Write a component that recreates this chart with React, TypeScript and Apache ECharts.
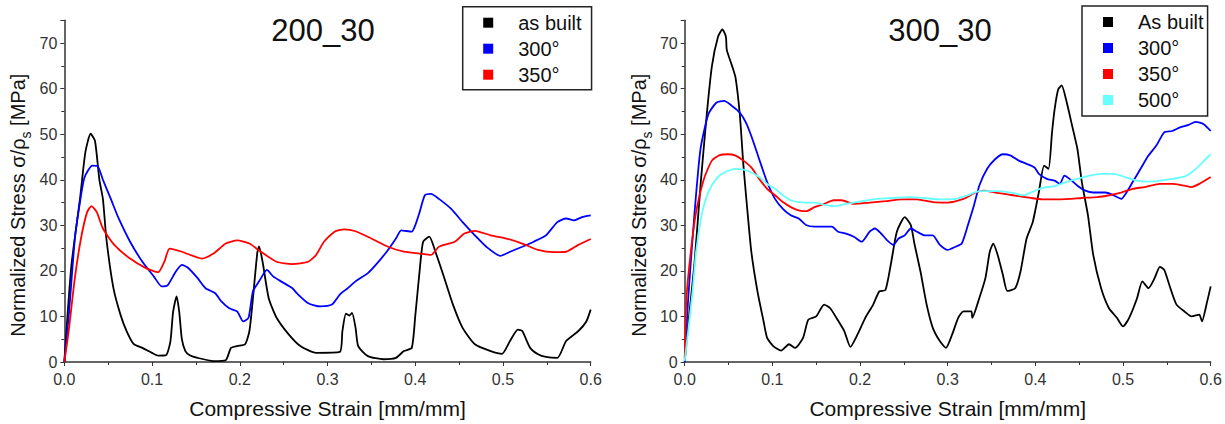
import React, { useEffect, useRef } from "react";
import * as echarts from "echarts";

// ---------- Data (strain [mm/mm], normalized stress [MPa]) ----------
const X_TICKS = [0, 0.1, 0.2, 0.3, 0.4, 0.5, 0.6];
const Y_TICKS = [0, 10, 20, 30, 40, 50, 60, 70];

const TITLE_LEFT = "200_30";
const TITLE_RIGHT = "300_30";

const LEGEND_LEFT = ["as built", "300°", "350°"];
const LEGEND_RIGHT = ["As built", "300°", "350°", "500°"];

// Left panel (200_30)
const L_AS_BUILT: [number, number][] = [
  [0, 0], [0.008, 21], [0.018, 36], [0.024, 46], [0.03, 50.1], [0.035, 48.5], [0.04, 40],
  [0.044, 35.8], [0.048, 27], [0.056, 16.2], [0.064, 10.4], [0.071, 6.8], [0.079, 4],
  [0.09, 3], [0.1, 2], [0.107, 1.4], [0.116, 1.5], [0.121, 4.6], [0.124, 11], [0.128, 14.4],
  [0.131, 11], [0.134, 5], [0.138, 2.4], [0.143, 1.5], [0.152, 0.9], [0.17, 0.2],
  [0.184, 0.4], [0.19, 3.1], [0.197, 3.5], [0.206, 3.9], [0.211, 6.8], [0.215, 14],
  [0.22, 24], [0.222, 25.4], [0.226, 22], [0.233, 14], [0.242, 9.7], [0.256, 6],
  [0.269, 3.5], [0.287, 2], [0.314, 2.2], [0.317, 6.8], [0.321, 10.6], [0.325, 10.2],
  [0.328, 10.8], [0.332, 7.5], [0.335, 3.5], [0.346, 1.3], [0.364, 0.6], [0.378, 0.9],
  [0.387, 2.4], [0.396, 3.1], [0.4, 10], [0.405, 20], [0.409, 26.4], [0.416, 27.5],
  [0.423, 24.2], [0.432, 19.1], [0.443, 12.6], [0.454, 7.5], [0.468, 3.9], [0.486, 2.4],
  [0.499, 1.8], [0.508, 4.6], [0.517, 7.1], [0.522, 6.8], [0.531, 3.1], [0.54, 1.7],
  [0.549, 1.1], [0.562, 0.9], [0.572, 4.6], [0.586, 6.8], [0.595, 8.9], [0.6, 11.5],
];

const L_300: [number, number][] = [
  [0, 0], [0.005, 10], [0.012, 27], [0.017, 34], [0.023, 40.5], [0.032, 43.1], [0.038, 43],
  [0.044, 40], [0.053, 35.8], [0.062, 31.5], [0.075, 26.4], [0.089, 22], [0.102, 18.8],
  [0.111, 16.6], [0.118, 16.9], [0.127, 19.8], [0.134, 21.3], [0.141, 20.7], [0.152, 18.4],
  [0.161, 16.2], [0.172, 15.1], [0.179, 13.3], [0.188, 11.8], [0.197, 11.1], [0.204, 8.9],
  [0.21, 9.7], [0.215, 15.5], [0.222, 17.7], [0.231, 20.2], [0.238, 18.8], [0.247, 17.7],
  [0.26, 16.2], [0.265, 15.1], [0.278, 12.9], [0.292, 12.2], [0.305, 12.6], [0.314, 14.8],
  [0.323, 16.2], [0.332, 17.7], [0.346, 19.5], [0.355, 21.3], [0.369, 24.6], [0.378, 27.1],
  [0.384, 28.9], [0.396, 28.6], [0.4, 30], [0.405, 32.9], [0.411, 36.6], [0.418, 36.9],
  [0.427, 35.8], [0.441, 33.6], [0.454, 30.7], [0.468, 27.8], [0.481, 25.3], [0.497, 23.3],
  [0.508, 24.2], [0.522, 25.3], [0.535, 26.4], [0.549, 27.8], [0.562, 30.7], [0.572, 31.5],
  [0.581, 31.1], [0.59, 31.8], [0.6, 32.2],
];

const L_350: [number, number][] = [
  [0, 0], [0.005, 6.8], [0.012, 18.4], [0.019, 27.1], [0.026, 32.9], [0.031, 34.2],
  [0.037, 32.9], [0.044, 29.3], [0.057, 25.7], [0.075, 22.7], [0.093, 20.6], [0.107, 19.7],
  [0.114, 22], [0.12, 24.9], [0.134, 24.2], [0.157, 22.7], [0.17, 23.8], [0.184, 26],
  [0.197, 26.7], [0.211, 26], [0.224, 24.2], [0.242, 22], [0.26, 21.5], [0.278, 22],
  [0.287, 23.5], [0.296, 26.4], [0.308, 28.6], [0.319, 29.1], [0.332, 28.7], [0.35, 27.1],
  [0.369, 25.3], [0.387, 24.2], [0.405, 23.8], [0.418, 23.5], [0.427, 25.3], [0.445, 26.4],
  [0.456, 28.2], [0.468, 28.8], [0.486, 27.8], [0.504, 27.1], [0.522, 26], [0.54, 24.6],
  [0.558, 24.1], [0.572, 24.2], [0.586, 25.7], [0.6, 27],
];

// Right panel (300_30)
const R_AS_BUILT: [number, number][] = [
  [0, 0], [0.004, 8.2], [0.011, 21.3], [0.018, 38.7], [0.025, 54], [0.031, 64.9],
  [0.038, 71.4], [0.043, 73], [0.047, 71.4], [0.048, 68.5], [0.054, 65], [0.058, 62.4],
  [0.063, 54], [0.067, 43.1], [0.072, 32.2], [0.076, 24.2], [0.083, 15.5], [0.09, 8.9],
  [0.094, 5.3], [0.101, 3.5], [0.11, 2.5], [0.119, 3.9], [0.126, 3.1], [0.135, 5.3],
  [0.141, 9.3], [0.15, 10], [0.159, 12.6], [0.166, 11.8], [0.173, 9.7], [0.182, 6.8],
  [0.189, 3.3], [0.197, 6], [0.206, 9.7], [0.215, 12.6], [0.222, 15.5], [0.229, 15.8],
  [0.235, 21.3], [0.242, 28.6], [0.251, 31.8], [0.258, 30], [0.262, 26], [0.269, 19.8],
  [0.276, 12.6], [0.283, 7.5], [0.291, 4.6], [0.298, 3.1], [0.305, 6], [0.312, 9.7],
  [0.318, 11.1], [0.327, 11.1], [0.328, 9.7], [0.336, 14], [0.343, 18.4], [0.348, 24.2],
  [0.352, 26], [0.357, 23.5], [0.363, 19.1], [0.368, 15.6], [0.377, 16.2], [0.383, 19.8],
  [0.39, 27.1], [0.397, 30.7], [0.404, 37.3], [0.41, 43.1], [0.415, 42.4], [0.419, 50.4],
  [0.422, 55.5], [0.426, 59.8], [0.43, 60.7], [0.435, 57.6], [0.442, 51.8], [0.448, 46.7],
  [0.453, 39.5], [0.46, 32.2], [0.466, 23.5], [0.475, 16.2], [0.484, 11.8], [0.493, 9.7],
  [0.5, 7.8], [0.507, 9.7], [0.516, 14], [0.522, 17.7], [0.529, 16.2], [0.536, 18.4],
  [0.542, 20.9], [0.547, 20.2], [0.554, 16.2], [0.561, 12.6], [0.57, 11.1], [0.578, 10],
  [0.587, 10.4], [0.59, 8.9], [0.596, 13.3], [0.6, 16.6],
];

const R_300: [number, number][] = [
  [0, 0], [0.004, 14], [0.011, 32.2], [0.018, 46.7], [0.027, 54.4], [0.036, 56.9],
  [0.045, 57.3], [0.054, 56.2], [0.063, 54.7], [0.07, 52.5], [0.076, 49.6], [0.085, 44.5],
  [0.094, 39.5], [0.103, 35.8], [0.112, 33.6], [0.121, 32.2], [0.13, 31.5], [0.139, 30],
  [0.148, 29.7], [0.159, 29.7], [0.168, 29.7], [0.175, 28.6], [0.184, 28.2], [0.193, 27.5],
  [0.202, 26.4], [0.211, 28.6], [0.217, 29.3], [0.224, 28.2], [0.231, 26.7], [0.238, 25.7],
  [0.244, 27.1], [0.251, 27.8], [0.258, 29.3], [0.265, 28.6], [0.274, 27.8], [0.283, 27.8],
  [0.291, 25.7], [0.3, 24.6], [0.309, 25.3], [0.316, 26], [0.323, 30], [0.33, 34.4],
  [0.336, 38.7], [0.345, 42.4], [0.354, 44.5], [0.363, 45.6], [0.372, 45.3], [0.381, 44.2],
  [0.39, 43.5], [0.399, 42.7], [0.404, 41.3], [0.413, 40.2], [0.422, 39.8], [0.428, 39.1],
  [0.433, 40.9], [0.439, 40.2], [0.448, 38.7], [0.457, 37.6], [0.466, 37.2], [0.48, 37.2],
  [0.489, 36.6], [0.498, 35.8], [0.504, 37.2], [0.511, 39.5], [0.52, 42.4], [0.529, 45.3],
  [0.538, 47.5], [0.547, 50.4], [0.556, 50.7], [0.565, 51.5], [0.574, 52], [0.583, 52.7],
  [0.592, 52.2], [0.6, 50.7],
];

const R_350: [number, number][] = [
  [0, 0.6], [0.002, 14], [0.007, 24.2], [0.013, 32.9], [0.022, 40.2], [0.031, 44.2],
  [0.04, 45.4], [0.049, 45.6], [0.058, 45.3], [0.067, 44.2], [0.076, 42.7], [0.085, 40.2],
  [0.094, 38], [0.103, 36.6], [0.112, 35.1], [0.121, 34], [0.13, 33.3], [0.139, 33.1],
  [0.148, 34], [0.159, 34.7], [0.17, 35.5], [0.179, 35.5], [0.193, 34.7], [0.211, 35],
  [0.229, 35.3], [0.247, 35.7], [0.265, 35.7], [0.283, 35.1], [0.3, 35], [0.318, 35.8],
  [0.332, 37.2], [0.341, 37.6], [0.354, 37.2], [0.368, 36.8], [0.381, 36.4], [0.395, 36],
  [0.408, 35.7], [0.426, 35.7], [0.439, 35.8], [0.453, 36], [0.471, 36.2], [0.484, 36.6],
  [0.498, 37.2], [0.511, 38], [0.525, 38.4], [0.542, 39.1], [0.556, 39.1], [0.57, 38.7],
  [0.578, 38.4], [0.587, 39.1], [0.6, 40.6],
];

const R_500: [number, number][] = [
  [0, 0.2], [0.004, 6.8], [0.009, 15.5], [0.013, 24.2], [0.02, 32.9], [0.027, 37.3],
  [0.036, 40.2], [0.045, 41.6], [0.058, 42.4], [0.067, 42.2], [0.076, 41.6], [0.085, 40.6],
  [0.094, 39.1], [0.103, 38], [0.112, 36.6], [0.121, 35.5], [0.13, 35.1], [0.139, 35],
  [0.148, 35], [0.159, 34.5], [0.17, 34.2], [0.184, 34.7], [0.202, 35.3], [0.22, 35.8],
  [0.238, 36], [0.256, 36.2], [0.274, 36], [0.291, 35.7], [0.309, 35.8], [0.323, 36.6],
  [0.336, 37.5], [0.354, 37.5], [0.372, 37.2], [0.386, 36.6], [0.395, 37.2], [0.408, 38.2],
  [0.422, 38.6], [0.435, 39.5], [0.448, 40.2], [0.462, 40.9], [0.475, 41.3], [0.489, 41.3],
  [0.502, 40.6], [0.516, 39.8], [0.529, 39.6], [0.542, 39.8], [0.556, 40.2], [0.57, 40.7],
  [0.578, 41.6], [0.587, 43.1], [0.594, 44.5], [0.6, 45.6],
];

const COLORS = {
  black: "#000000",
  blue: "#0000ff",
  red: "#ff0000",
  cyan: "#66ffff",
};

const FONT = "'Liberation Sans', Arial, sans-serif";

export default function App() {
  const ref = useRef<HTMLDivElement>(null);

  useEffect(() => {
    if (!ref.current) return;
    const chart = echarts.init(ref.current, undefined, { renderer: "svg" });

    const grids = [
      { left: 64.3, top: 20.3, width: 526.4, height: 344.2 },
      { left: 684.7, top: 20.3, width: 526, height: 344.2 },
    ];

    const xAxis = [0, 1].map((i) => ({
      type: "value",
      gridIndex: i,
      min: X_TICKS[0],
      max: X_TICKS[X_TICKS.length - 1],
      interval: 0.1,
      name: "Compressive Strain [mm/mm]",
      nameLocation: "middle",
      nameGap: 36,
      nameTextStyle: { fontFamily: FONT, fontSize: 21, color: "#111" },
      axisLine: { show: true, onZero: false, lineStyle: { color: "#333", width: 1.5 } },
      axisTick: { show: true, inside: false, length: 4, lineStyle: { color: "#333", width: 1 } },
      minorTick: { show: true, splitNumber: 2, length: 3, lineStyle: { color: "#333", width: 1 } },
      splitLine: { show: false },
      axisLabel: {
        margin: 9,
        fontFamily: FONT,
        fontSize: 16,
        color: "#333",
        formatter: (v: number) => v.toFixed(1),
      },
    }));

    const yAxis = [0, 1].map((i) => ({
      type: "value",
      gridIndex: i,
      min: Y_TICKS[0],
      max: 75,
      interval: 10,
      name: "Normalized Stress σ/ρ{sub|s} [MPa]",
      nameLocation: "middle",
      nameGap: 31,
      nameTextStyle: {
        fontFamily: FONT,
        fontSize: 20,
        color: "#111",
        lineHeight: 30,
        padding: [0, 28, 0, 0],
        rich: {
          sub: { fontFamily: FONT, fontSize: 14, verticalAlign: "bottom", lineHeight: 30, color: "#111" },
        },
      },
      axisLine: { show: true, onZero: false, lineStyle: { color: "#333", width: 1.5 } },
      axisTick: { show: true, inside: false, length: 4, lineStyle: { color: "#333", width: 1 } },
      minorTick: { show: true, splitNumber: 2, length: 3, lineStyle: { color: "#333", width: 1 } },
      splitLine: { show: false },
      axisLabel: {
        margin: 7,
        fontFamily: FONT,
        fontSize: 16,
        color: "#333",
        showMaxLabel: false,
        formatter: (v: number) => (Y_TICKS.includes(v) ? String(v) : ""),
      },
    }));

    const mk = (name: string, data: [number, number][], color: string, gi: number) => ({
      type: "line",
      name,
      data,
      xAxisIndex: gi,
      yAxisIndex: gi,
      showSymbol: false,
      symbol: "none",
      smooth: 0.2,
      lineStyle: { color, width: 1.8 },
      itemStyle: { color },
      z: 2,
    });

    const legendBase = {
      orient: "vertical",
      icon: "rect",
      itemWidth: 10,
      itemHeight: 10,
      itemGap: 6,
      borderColor: "#222",
      borderWidth: 1.5,
      borderRadius: 0,
      backgroundColor: "#fff",
      selectedMode: false,
      textStyle: { fontFamily: FONT, fontSize: 20, color: "#111", padding: [0, 0, 0, 20] },
    };

    chart.setOption({
      animation: false,
      backgroundColor: "#fff",
      title: [
        {
          text: TITLE_LEFT,
          left: 318,
          top: 10,
          textAlign: "center",
          textStyle: { fontFamily: FONT, fontSize: 31, fontWeight: "normal", color: "#111" },
        },
        {
          text: TITLE_RIGHT,
          left: 935,
          top: 10,
          textAlign: "center",
          textStyle: { fontFamily: FONT, fontSize: 31, fontWeight: "normal", color: "#111" },
        },
      ],
      legend: [
        { ...legendBase, data: LEGEND_LEFT, left: 462.7, top: 6.7, padding: [6, 10, 5, 20.5] },
        { ...legendBase, data: LEGEND_RIGHT, left: 1082, top: 6, padding: [6, 4, 6, 21] },
      ],
      grid: grids,
      xAxis,
      yAxis,
      series: [
        mk(LEGEND_LEFT[0], L_AS_BUILT, COLORS.black, 0),
        mk(LEGEND_LEFT[1], L_300, COLORS.blue, 0),
        mk(LEGEND_LEFT[2], L_350, COLORS.red, 0),
        mk(LEGEND_RIGHT[0], R_AS_BUILT, COLORS.black, 1),
        mk(LEGEND_RIGHT[1], R_300, COLORS.blue, 1),
        mk(LEGEND_RIGHT[2], R_350, COLORS.red, 1),
        mk(LEGEND_RIGHT[3], R_500, COLORS.cyan, 1),
      ],
    });

    return () => chart.dispose();
  }, []);

  return (
    <div
      ref={ref}
      style={{ position: "fixed", left: 0, top: 0, width: 1225, height: 424, background: "#fff" }}
    />
  );
}
